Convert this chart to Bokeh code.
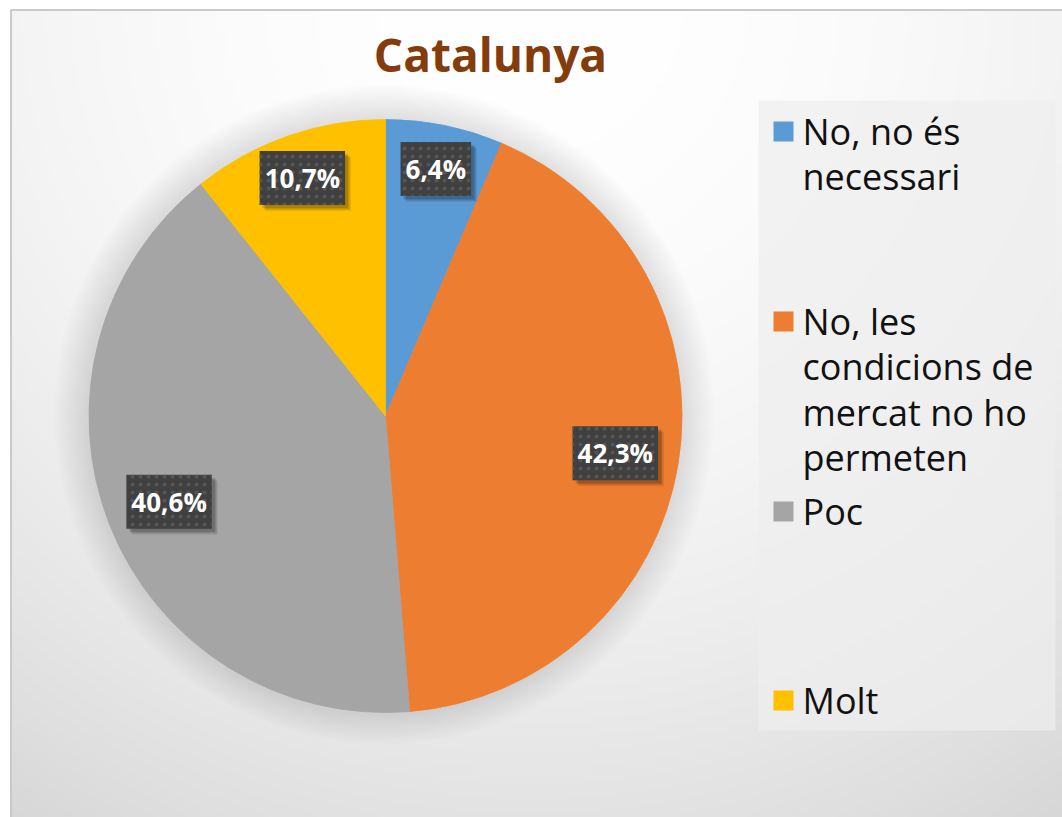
import numpy as np
from bokeh.plotting import figure
from bokeh.models import Range1d
from bokeh.core.properties import value
from bokeh.embed import file_html
from bokeh.resources import INLINE

# ---------------- data ----------------
title_text = "Catalunya"
categories = ["No, no és necessari",
              "No, les condicions de mercat no ho permeten",
              "Poc",
              "Molt"]
legend_labels = ["No, no és\nnecessari",
                 "No, les\ncondicions de\nmercat no ho\npermeten",
                 "Poc",
                 "Molt"]
shares = [6.4, 42.3, 40.6, 10.7]
colors = ["#5B9BD5", "#ED7D31", "#A5A5A5", "#FFC000"]

# ---------------- layout (page pixels, y downward -> data y = -page_y) ----------------
W, H = 1062, 817
FONT = "Open Sans"

p = figure(width=W, height=H,
           x_range=Range1d(0, W), y_range=Range1d(-H, 0),
           output_backend="svg", toolbar_location=None,
           x_axis_type=None, y_axis_type=None, min_border=0,
           background_fill_color="white", border_fill_color="white",
           outline_line_color=None)
p.xgrid.visible = False
p.ygrid.visible = False

# background radial gradient (white at top centre -> light grey at the edges)
gx0, gy0, gx1, gy1 = 11, 10, W, H
nx, ny = 264, 203
xs = np.linspace(gx0, gx1, nx)
ys = np.linspace(gy1, gy0, ny)          # row 0 = bottom
X, Y = np.meshgrid(xs, ys)
d = np.sqrt((X - 530.0) ** 2 + (Y - 0.0) ** 2) / 1000.0
g = np.clip(255 - 42 * d ** 2, 0, 255).astype(np.uint8)
img = np.empty((ny, nx), dtype=np.uint32)
view = img.view(dtype=np.uint8).reshape((ny, nx, 4))
view[:, :, 0] = g
view[:, :, 1] = g
view[:, :, 2] = g
view[:, :, 3] = 255
p.image_rgba(image=[img], x=gx0, y=-gy1, dw=gx1 - gx0, dh=gy1 - gy0)

# chart border (left and top visible)
p.line(x=[10.5, 10.5, gx1 + 5], y=[-(gy1 + 5), -9.5, -9.5],
       line_color="#cacaca", line_width=2)

# title
p.text(x=[490], y=[-53], text=[title_text], text_align="center",
       text_baseline="middle", text_font=value(FONT), text_font_style="bold",
       text_font_size="46px", text_color="#843C0C")

# ---------------- pie ----------------
cx, cy, R = 385.0, -415.5, 296.5
for k in range(1, 15):
    p.circle(x=[cx - 1.5], y=[cy + 1.5], radius=R + k * 2.4, fill_color="black",
             fill_alpha=0.009, line_color=None)

vals = np.array(shares, dtype=float)
cum = np.concatenate([[0.0], np.cumsum(vals)]) / vals.sum()
start = np.pi / 2 - 2 * np.pi * cum[:-1]
end = np.pi / 2 - 2 * np.pi * cum[1:]
p.wedge(x=cx, y=cy, radius=R, start_angle=start, end_angle=end,
        direction="clock", fill_color=colors, line_color=colors, line_width=0.8)

# data labels
mid = (cum[:-1] + cum[1:]) / 2
ang = np.pi / 2 - 2 * np.pi * mid
frac = np.array([0.85 if s < 15 else 0.785 for s in shares])
lx = cx + frac * R * np.cos(ang)
ly = cy + frac * R * np.sin(ang)
labels = [f"{s:.1f}".replace(".", ",") + "%" for s in shares]

common = dict(text_align="center", text_baseline="middle",
              text_font=value(FONT), text_font_style="bold",
              text_font_size="26px", padding=(5, 9))
for off, a in [(6, 0.07), (5, 0.08), (4, 0.10), (3, 0.12)]:
    p.text(x=lx, y=ly, text=labels, text_alpha=0.0,
           background_fill_color="black", background_fill_alpha=a,
           x_offset=off, y_offset=off, **common)
p.text(x=lx, y=ly, text=labels, text_color="white",
       background_fill_color="#404040",
       background_hatch_pattern="dot", background_hatch_color="#555555",
       background_hatch_scale=8, background_hatch_weight=1,
       **common)

# ---------------- legend ----------------
p.quad(left=758, right=1055, top=-100, bottom=-730,
       fill_color="#eeeeee", fill_alpha=0.7, line_color=None)
leg_y = np.array([131, 321, 511, 700], dtype=float)
p.rect(x=783, y=-leg_y, width=20, height=20, fill_color=colors, line_color=None)
p.text(x=802, y=-(leg_y - 25), text=legend_labels, text_align="left",
       text_baseline="top", text_font=value(FONT), text_font_size="36px",
       text_line_height=0.93, text_color="#111111")

open("out.html", "w").write(file_html(p, INLINE))
